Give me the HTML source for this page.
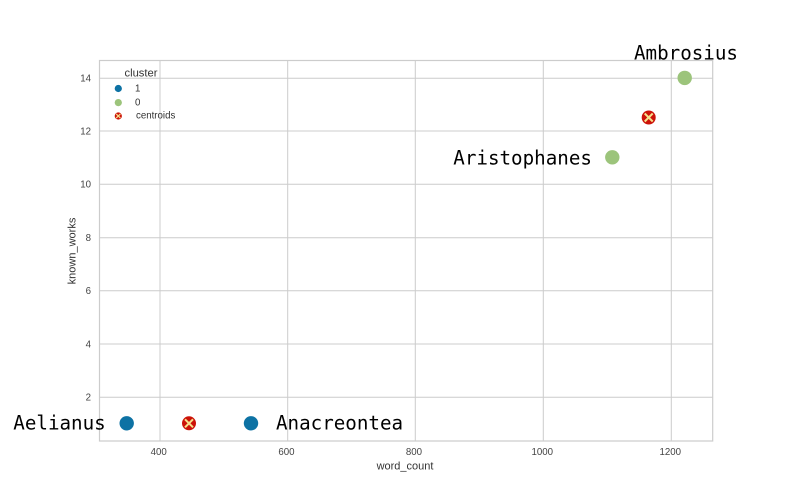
<!DOCTYPE html>
<html>
<head>
<meta charset="utf-8">
<style>
  html, body { margin:0; padding:0; background:#ffffff; }
  svg { display:block; }
  .tick { font-family:"Liberation Sans", Arial, sans-serif; font-size:9.7px; fill:#444444; }
  .lab { font-family:"Liberation Sans", Arial, sans-serif; font-size:11px; fill:#333333; }
  .leg { font-family:"Liberation Sans", Arial, sans-serif; font-size:9.7px; fill:#333333; }
  .ann { font-family:"DejaVu Sans Mono", "Liberation Mono", monospace; font-size:19.2px; fill:#000000; }
</style>
</head>
<body>
<svg width="792" height="504" viewBox="0 0 792 504" xmlns="http://www.w3.org/2000/svg">
  <rect x="0" y="0" width="792" height="504" fill="#ffffff"/>
  <!-- grid -->
  <g stroke="#cccccc" stroke-width="1">
    <line x1="160" y1="60.5" x2="160" y2="441"/>
    <line x1="287.7" y1="60.5" x2="287.7" y2="441"/>
    <line x1="415.3" y1="60.5" x2="415.3" y2="441"/>
    <line x1="543.3" y1="60.5" x2="543.3" y2="441"/>
    <line x1="671.3" y1="60.5" x2="671.3" y2="441"/>
    <line x1="99.5" y1="78.3" x2="712.7" y2="78.3"/>
    <line x1="99.5" y1="131" x2="712.7" y2="131"/>
    <line x1="99.5" y1="184.3" x2="712.7" y2="184.3"/>
    <line x1="99.5" y1="237.7" x2="712.7" y2="237.7"/>
    <line x1="99.5" y1="290.7" x2="712.7" y2="290.7"/>
    <line x1="99.5" y1="344" x2="712.7" y2="344"/>
    <line x1="99.5" y1="397.3" x2="712.7" y2="397.3"/>
  </g>
  <!-- spines -->
  <rect x="99.5" y="60.5" width="613.2" height="380.5" fill="none" stroke="#cccccc" stroke-width="1.2"/>

  <!-- y tick labels -->
  <g class="tick" text-anchor="end">
    <text x="91" y="81.6">14</text>
    <text x="91" y="134.4">12</text>
    <text x="91" y="187.6">10</text>
    <text x="91" y="241">8</text>
    <text x="91" y="294">6</text>
    <text x="91" y="347.3">4</text>
    <text x="91" y="400.6">2</text>
  </g>
  <!-- x tick labels -->
  <g class="tick" text-anchor="middle">
    <text x="158.7" y="454.8">400</text>
    <text x="286.4" y="454.8">600</text>
    <text x="414" y="454.8">800</text>
    <text x="542.3" y="454.8">1000</text>
    <text x="670.3" y="454.8">1200</text>
  </g>
  <!-- axis labels -->
  <text class="lab" x="405" y="469.5" text-anchor="middle">word_count</text>
  <text class="lab" x="0" y="0" text-anchor="middle" transform="translate(75.3,251) rotate(-90)">known_works</text>

  <!-- legend -->
  <text class="lab" x="124.5" y="76.5" style="font-size:11.2px">cluster</text>
  <circle cx="118.3" cy="88.5" r="3.6" fill="#0d72a4"/>
  <text class="leg" x="135" y="91.4">1</text>
  <circle cx="118.3" cy="102.6" r="3.6" fill="#9cc47b"/>
  <text class="leg" x="135" y="105.4">0</text>
  <circle cx="118.3" cy="116" r="3.6" fill="#cc1208"/>
  <g stroke="#f6e08c" stroke-width="1.2">
    <line x1="116.2" y1="113.9" x2="120.4" y2="118.1"/>
    <line x1="120.4" y1="113.9" x2="116.2" y2="118.1"/>
  </g>
  <text class="leg" x="136" y="118.5">centroids</text>

  <!-- data points -->
  <circle cx="126.7" cy="423.3" r="7.2" fill="#0d72a4"/>
  <circle cx="251" cy="423.3" r="7.2" fill="#0d72a4"/>
  <circle cx="612.3" cy="157.3" r="7.2" fill="#9cc47b"/>
  <circle cx="684.7" cy="77.9" r="7.2" fill="#9cc47b"/>

  <!-- centroids -->
  <circle cx="189" cy="423.3" r="7" fill="#cc1208"/>
  <g stroke="#f6e08c" stroke-width="2">
    <line x1="185" y1="419.3" x2="193" y2="427.3"/>
    <line x1="193" y1="419.3" x2="185" y2="427.3"/>
  </g>
  <circle cx="648.7" cy="117.5" r="7" fill="#cc1208"/>
  <g stroke="#f6e08c" stroke-width="2">
    <line x1="644.7" y1="113.5" x2="652.7" y2="121.5"/>
    <line x1="652.7" y1="113.5" x2="644.7" y2="121.5"/>
  </g>

  <!-- annotations -->
  <text class="ann" x="13.3" y="429.5">Aelianus</text>
  <text class="ann" x="276" y="429.5">Anacreontea</text>
  <text class="ann" x="453.3" y="164.3">Aristophanes</text>
  <text class="ann" x="634" y="59.3">Ambrosius</text>
</svg>
</body>
</html>
